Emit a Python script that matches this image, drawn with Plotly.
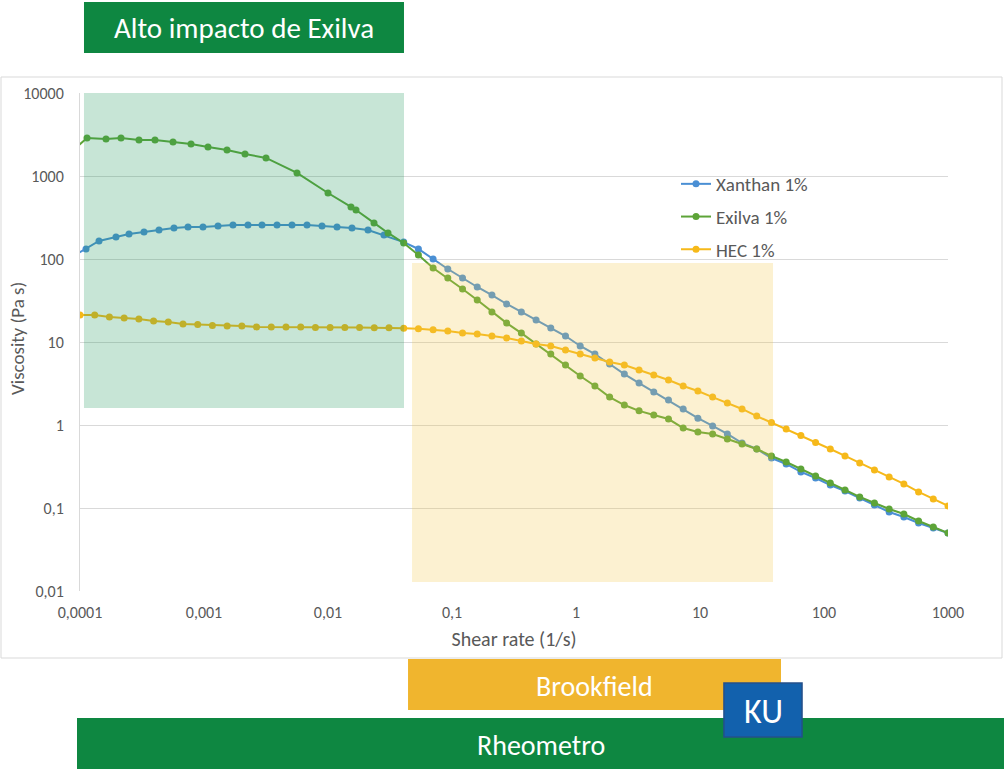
import plotly.graph_objects as go

# ---------------- data ----------------
# common shear-rate grid used by the measurements from ~0.04 1/s upward
grid_high = [4.078e-2, 5.359e-2, 7.042e-2, 9.25e-2, 0.1216, 0.1598, 0.2099, 0.2759,
             0.3625, 0.4764, 0.6261, 0.8228, 1.081, 1.421, 1.867, 2.454, 3.225,
             4.238, 5.569, 7.318, 9.618, 12.64, 16.61, 21.83, 28.68, 37.69, 49.53,
             65.09, 85.54, 112.4, 147.7, 194.1, 255.1, 335.3, 440.6, 579.0, 760.9, 1000]

# HEC 1%
hec_x = [1.0e-4, 1.314e-4, 1.727e-4, 2.270e-4, 2.983e-4, 3.920e-4, 5.152e-4, 6.771e-4,
         8.897e-4, 1.169e-3, 1.537e-3, 2.020e-3, 2.654e-3, 3.488e-3, 4.584e-3, 6.024e-3,
         7.917e-3, 1.040e-2, 1.367e-2, 1.797e-2, 2.361e-2, 3.103e-2] + grid_high
hec_y = [21.1, 21.1, 20.0, 19.5, 18.9, 17.9, 17.4, 16.5, 16.3, 15.8, 15.6, 15.6, 15.2, 15.2,
         15.2, 15.2, 15.0, 15.0, 15.0, 15.0, 14.8, 14.8,
         14.6, 14.4, 14.0, 13.6, 12.8, 12.5, 11.8, 11.2, 10.3, 9.47, 8.95, 8.01, 7.16, 6.41,
         5.74, 5.28, 4.60, 4.0, 3.48, 2.95, 2.57, 2.17, 1.84, 1.56, 1.28, 1.07, 0.895, 0.747,
         0.615, 0.514, 0.424, 0.349, 0.287, 0.236, 0.195, 0.156, 0.128, 0.106]

# Xanthan 1%
xan_x = [8.62e-5, 1.118e-4, 1.423e-4, 1.951e-4, 2.484e-4, 3.282e-4, 4.335e-4, 5.727e-4,
         7.430e-4, 9.815e-4, 1.297e-3, 1.713e-3, 2.263e-3, 2.936e-3, 3.879e-3, 5.125e-3,
         6.77e-3, 8.947e-3, 1.182e-2, 1.561e-2, 2.102e-2, 2.828e-2] + grid_high
xan_y = [106, 132, 165, 184, 200, 211, 223, 236, 243, 243, 250, 257, 257, 257, 257, 257, 257,
         250, 243, 236, 223, 194,
         160, 132, 100, 75.8, 59, 46, 36.8, 28.7, 23, 18.4, 14.7, 11.8, 8.95, 7.16, 5.43,
         4.11, 3.2, 2.5, 2.0, 1.56, 1.21, 0.973, 0.78, 0.607, 0.514, 0.40, 0.339, 0.272,
         0.23, 0.189, 0.16, 0.132, 0.109, 0.0895, 0.078, 0.066, 0.0574, 0.050]

# Exilva 1%
exi_x = [8.62e-5, 1.139e-4, 1.621e-4, 2.141e-4, 2.990e-4, 4.024e-4, 5.623e-4, 7.856e-4,
         1.077e-3, 1.533e-3, 2.141e-3, 3.162e-3, 5.623e-3, 1.0e-2, 1.533e-2, 1.682e-2,
         2.350e-2, 3.048e-2] + grid_high
exi_y = [2000, 2870, 2790, 2870, 2720, 2720, 2570, 2430, 2230, 2060, 1840, 1650, 1090, 624,
         424, 389, 272, 206,
         156, 112, 78, 59, 43.5, 32, 23, 16.9, 12.8, 9.47, 7.16, 5.28, 3.89, 2.95, 2.17,
         1.74, 1.48, 1.32, 1.18, 0.92, 0.824, 0.78, 0.678, 0.59, 0.514, 0.423, 0.358,
         0.295, 0.243, 0.2, 0.165, 0.136, 0.115, 0.0973, 0.0847, 0.0697, 0.059, 0.050]

series_names = ["Xanthan 1%", "Exilva 1%", "HEC 1%"]

x_tickvals = [1e-4, 1e-3, 1e-2, 1e-1, 1, 10, 100, 1000]
x_ticktext = ["0,0001", "0,001", "0,01", "0,1", "1", "10", "100", "1000"]
y_tickvals = [0.01, 0.1, 1, 10, 100, 1000, 10000]
y_ticktext = ["0,01", "0,1", "1", "10", "100", "1000", "10000"]

# highlighted ranges (shear rate, viscosity)
exilva_zone_x = (1.077e-4, 0.041)
exilva_zone_y = (1.60, 10870)
brook_zone_x = (0.0476, 38.8)
brook_zone_y = (0.0128, 89.5)

# ---------------- styling ----------------
FONT = "Carlito, Lato, 'Open Sans', sans-serif"
BLUE = "#4a8fd4"
GREEN = "#5da438"
GOLD = "#f6b91a"
DARKGREEN = "#0e8741"
BROOK = "#f0b52e"
KUBLUE = "#1261ad"
GRAY = "#595959"


def px(xp):
    return (xp - 80) / 868


def py(yp):
    return (591 - yp) / 498


fig = go.Figure()
for name, xs, ys, col in [(series_names[0], xan_x, xan_y, BLUE),
                          (series_names[1], exi_x, exi_y, GREEN),
                          (series_names[2], hec_x, hec_y, GOLD)]:
    fig.add_trace(go.Scatter(x=xs, y=ys, name=name, mode="lines+markers",
                             legendgroup=name,
                             line=dict(color=col, width=2),
                             marker=dict(color=col, size=7)))

shapes = [
    # chart frame
    dict(type="rect", xref="paper", yref="paper", x0=px(1), x1=px(1002), y0=py(658), y1=py(77),
         line=dict(color="#d9d9d9", width=1), fillcolor="rgba(0,0,0,0)", layer="below"),
    # shaded zones
    dict(type="rect", xref="x", yref="y", x0=exilva_zone_x[0], x1=exilva_zone_x[1],
         y0=exilva_zone_y[0], y1=exilva_zone_y[1], line=dict(width=0),
         fillcolor="rgba(30,150,90,0.25)", layer="above"),
    dict(type="rect", xref="x", yref="y", x0=brook_zone_x[0], x1=brook_zone_x[1],
         y0=brook_zone_y[0], y1=brook_zone_y[1], line=dict(width=0),
         fillcolor="rgba(245,200,70,0.25)", layer="above"),
    # title box
    dict(type="rect", xref="x", yref="paper", x0=exilva_zone_x[0], x1=exilva_zone_x[1],
         y0=py(53), y1=py(2), line=dict(width=0), fillcolor=DARKGREEN),
    # Brookfield bar
    dict(type="rect", xref="x", yref="paper", x0=0.0442, x1=45.0, y0=py(710), y1=py(659),
         line=dict(width=0), fillcolor=BROOK),
    # Rheometro bar
    dict(type="rect", xref="paper", yref="paper", x0=px(77), x1=px(1006), y0=py(769), y1=py(718),
         line=dict(width=0), fillcolor=DARKGREEN),
    # KU box
    dict(type="rect", xref="x", yref="paper", x0=15.6, x1=66.5, y0=py(737), y1=py(683),
         line=dict(color="#24508a", width=1.5), fillcolor=KUBLUE),
]


def label(text, xp, yp, size):
    return dict(text=text, xref="paper", yref="paper", x=px(xp), y=py(yp),
                xanchor="center", yanchor="middle", showarrow=False,
                font=dict(family=FONT, size=size, color="white", weight=300))


annotations = [
    label("Alto impacto de Exilva", 244, 28, 29),
    label("Brookfield", 594, 686, 28),
    label("Rheometro", 541, 745, 28),
    label("KU", 763, 711, 34),
    # y-axis title
    dict(text="Viscosity (Pa s)", xref="paper", yref="paper", x=px(17), y=py(338),
         xanchor="center", yanchor="middle", textangle=-90, showarrow=False,
         font=dict(family=FONT, size=19, color=GRAY)),
]

fig.update_layout(
    width=1004, height=779,
    margin=dict(l=80, r=56, t=93, b=188),
    paper_bgcolor="white", plot_bgcolor="white",
    font=dict(family=FONT, color=GRAY, size=15),
    shapes=shapes, annotations=annotations,
    showlegend=True,
    legend=dict(x=px(676), y=py(165), xanchor="left", yanchor="top",
                bgcolor="rgba(0,0,0,0)", font=dict(family=FONT, size=19, color=GRAY),
                traceorder="grouped", tracegroupgap=5, itemwidth=30),
    xaxis=dict(type="log", range=[-4, 3], tickvals=x_tickvals, ticktext=x_ticktext,
               showgrid=False, zeroline=False, showline=False, ticks="",
               automargin=False, ticklabelstandoff=10,
               tickfont=dict(size=16, color=GRAY),
               title=dict(text="Shear rate (1/s)", font=dict(size=20, color=GRAY), standoff=10)),
    yaxis=dict(type="log", range=[-2, 4], tickvals=y_tickvals, ticktext=y_ticktext,
               showgrid=True, gridcolor="#d9d9d9", gridwidth=1, zeroline=False,
               showline=True, linecolor="#d9d9d9", linewidth=1, ticks="",
               automargin=False, ticklabelstandoff=12,
               tickfont=dict(size=16, color=GRAY)),
)

fig.write_html("out.html", post_script="document.body.style.margin='0';",
               config={"displayModeBar": False})
